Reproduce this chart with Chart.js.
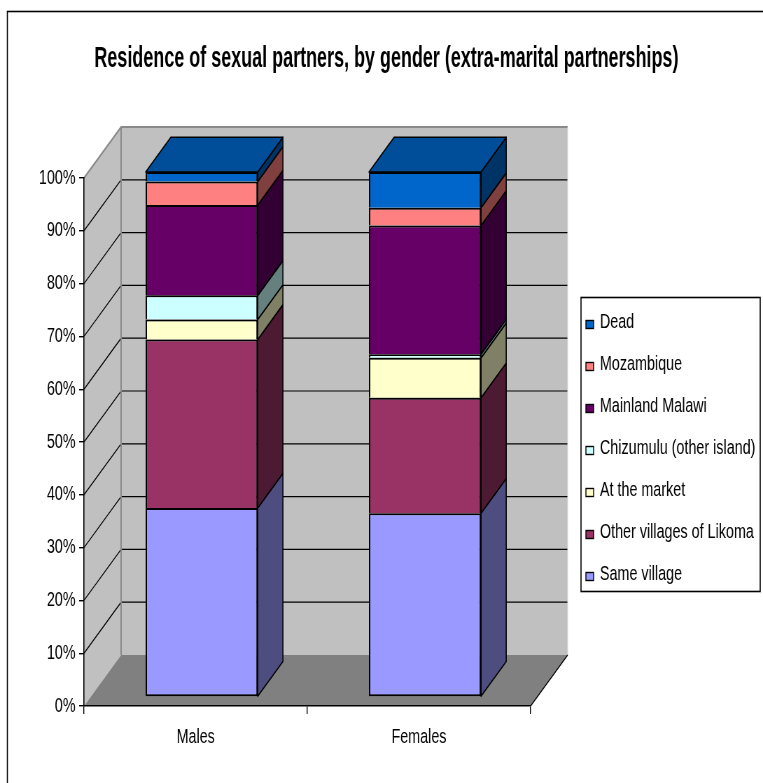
<!DOCTYPE html>
<html>
<head>
<meta charset="utf-8">
<title>Residence of sexual partners, by gender</title>
<script src="https://cdn.jsdelivr.net/npm/chart.js@4.4.1/dist/chart.umd.min.js"></script>
<style>
  html, body { margin: 0; padding: 0; background: #fff; overflow: hidden; }
  #wrap { position: relative; width: 763px; height: 783px; overflow: hidden; }
  /* the chart is laid out on a wider canvas and narrowed horizontally */
  #chart { position: absolute; left: 0; top: 0; transform: scaleX(0.7); transform-origin: 0 0; }
</style>
</head>
<body>
<div id="wrap"><canvas id="chart" width="1090" height="783"></canvas></div>
<script>
// ---- data (percent of partners) ----
const categories = ['Males', 'Females'];
const sameVillage    = [36.0, 35.0];
const otherVillages  = [32.1, 22.0];
const atMarket       = [3.8, 7.6];
const chizumulu      = [4.6, 0.7];
const mainlandMalawi = [17.2, 24.5];
const mozambique     = [4.5, 3.4];
const dead           = [1.8, 6.8];

const seriesNames = ['Same village', 'Other villages of Likoma', 'At the market',
  'Chizumulu (other island)', 'Mainland Malawi', 'Mozambique', 'Dead'];
const seriesValues = [sameVillage, otherVillages, atMarket, chizumulu, mainlandMalawi, mozambique, dead];
const yTicks = [0, 10, 20, 30, 40, 50, 60, 70, 80, 90, 100];
const chartTitle = 'Residence of sexual partners, by gender (extra-marital partnerships)';

// ---- styling ----
const seriesColors = ['#9999FF', '#993366', '#FFFFCC', '#CCFFFF', '#660066', '#FF8080', '#0066CC'];
const WALL = { dx: 53, dy: -51 };          // depth of the walls / floor
const BAR_SHIFT = { dx: 8.6, dy: -9, k: 525 / 528 }; // bar front plane sits a little behind the axis plane
const BAR_DEPTH = { dx: 36, dy: -35 };      // depth of each block

function shade(hex, f) {
  const n = parseInt(hex.slice(1), 16);
  const r = Math.round(((n >> 16) & 255) * f);
  const g = Math.round(((n >> 8) & 255) * f);
  const b = Math.round((n & 255) * f);
  return `rgb(${r},${g},${b})`;
}

const sceneryPlugin = {
  id: 'scenery',
  beforeDraw(chart) {
    const { ctx, chartArea: a } = chart;
    const y = chart.scales.y;
    const L = a.left, R = a.right;
    const B = y.getPixelForValue(0), T = y.getPixelForValue(100);
    const dx = WALL.dx, dy = WALL.dy;
    ctx.save();
    // outer frame
    ctx.strokeStyle = '#000';
    ctx.lineWidth = 1.6;
    ctx.strokeRect(10.5, 11.5, chart.width + 40, chart.height + 40);

    // back wall
    ctx.fillStyle = '#C0C0C0';
    ctx.fillRect(L + dx, T + dy, R - L, B - T);
    // left wall
    ctx.beginPath();
    ctx.moveTo(L, B); ctx.lineTo(L, T); ctx.lineTo(L + dx, T + dy); ctx.lineTo(L + dx, B + dy);
    ctx.closePath();
    ctx.fill();
    // floor
    ctx.fillStyle = '#808080';
    ctx.beginPath();
    ctx.moveTo(L, B); ctx.lineTo(R, B); ctx.lineTo(R + dx, B + dy); ctx.lineTo(L + dx, B + dy);
    ctx.closePath();
    ctx.fill();

    // gridlines on the walls
    ctx.strokeStyle = '#000';
    ctx.lineWidth = 1.2;
    yTicks.forEach(v => {
      if (v === 0 || v === 100) return;
      const py = y.getPixelForValue(v);
      ctx.beginPath();
      ctx.moveTo(L, py); ctx.lineTo(L + dx, py + dy); ctx.lineTo(R + dx, py + dy);
      ctx.stroke();
    });

    // wall edges
    ctx.strokeStyle = '#8a8a8a';
    ctx.lineWidth = 2;
    ctx.beginPath();
    ctx.moveTo(L, T); ctx.lineTo(L + dx, T + dy); ctx.lineTo(R + dx, T + dy);
    ctx.moveTo(L + dx, T + dy); ctx.lineTo(L + dx, B + dy);
    ctx.stroke();
    ctx.strokeStyle = '#dcdcdc';
    ctx.lineWidth = 1;
    ctx.beginPath();
    ctx.moveTo(R + dx, T + dy); ctx.lineTo(R + dx, B + dy);
    ctx.stroke();
    ctx.strokeStyle = '#000';
    ctx.lineWidth = 1.2;
    ctx.beginPath();
    ctx.moveTo(R, B); ctx.lineTo(R + dx, B + dy);
    ctx.stroke();
    ctx.restore();
  },
  beforeDatasetsDraw(chart) {
    const { ctx } = chart;
    const B = chart.scales.y.getPixelForValue(0);
    ctx.save();
    ctx.translate(BAR_SHIFT.dx, B + BAR_SHIFT.dy);
    ctx.scale(1, BAR_SHIFT.k);
    ctx.translate(0, -B);
  },
  afterDatasetsDraw(chart) {
    const { ctx } = chart;
    const sx = BAR_DEPTH.dx, sy = BAR_DEPTH.dy;
    const last = chart.data.datasets.length - 1;
    ctx.lineWidth = 1.6;
    ctx.strokeStyle = '#000';
    ctx.lineJoin = 'round';
    chart.data.datasets.forEach((ds, i) => {
      const meta = chart.getDatasetMeta(i);
      meta.data.forEach(el => {
        const { x, y, base, width } = el.getProps(['x', 'y', 'base', 'width'], true);
        const left = x - width / 2, right = x + width / 2;
        // side face
        ctx.fillStyle = shade(seriesColors[i], 0.5);
        ctx.beginPath();
        ctx.moveTo(right, y); ctx.lineTo(right + sx, y + sy);
        ctx.lineTo(right + sx, base + sy); ctx.lineTo(right, base);
        ctx.closePath();
        ctx.fill(); ctx.stroke();
        // lid on the top block
        if (i === last) {
          ctx.fillStyle = shade(seriesColors[i], 0.75);
          ctx.beginPath();
          ctx.moveTo(left, y); ctx.lineTo(left + sx, y + sy);
          ctx.lineTo(right + sx, y + sy); ctx.lineTo(right, y);
          ctx.closePath();
          ctx.fill(); ctx.stroke();
        }
      });
    });
    ctx.restore();
  },
  afterDraw(chart) {
    const { ctx } = chart;
    ctx.save();
    // title, set in a condensed bold face
    ctx.save();
    ctx.translate(552, 67);
    ctx.scale(0.87, 1);
    ctx.fillStyle = '#000';
    ctx.font = 'bold 29.5px "Liberation Sans", Arial, sans-serif';
    ctx.textAlign = 'center';
    ctx.textBaseline = 'alphabetic';
    ctx.fillText(chartTitle, 0, 0);
    ctx.restore();

    // legend
    const box = { x: 830, y: 297.5, w: 256, h: 294 };
    ctx.fillStyle = '#fff';
    ctx.fillRect(box.x, box.y, box.w, box.h);
    ctx.strokeStyle = '#000';
    ctx.lineWidth = 1.6;
    ctx.strokeRect(box.x, box.y, box.w, box.h);
    ctx.font = '20.5px "Liberation Sans", Arial, sans-serif';
    ctx.textAlign = 'left';
    ctx.textBaseline = 'alphabetic';
    const n = chart.data.datasets.length;
    for (let k = 0; k < n; k++) {
      const i = n - 1 - k;
      const ds = chart.data.datasets[i];
      const base = 327.5 + k * 42;
      ctx.fillStyle = ds.backgroundColor;
      ctx.fillRect(837, base - 7, 11, 8);
      ctx.lineWidth = 1.4;
      ctx.strokeRect(837, base - 7, 11, 8);
      ctx.fillStyle = '#000';
      ctx.fillText(ds.label, 857, base);
    }
    ctx.restore();
  }
};

const datasets = seriesNames.map((name, i) => ({
  label: name,
  data: seriesValues[i],
  backgroundColor: seriesColors[i],
  borderColor: '#000',
  borderWidth: 2,
  borderSkipped: i === 0 ? false : 'start',
  barPercentage: 0.502,
  categoryPercentage: 1,
  clip: false
}));

Chart.defaults.font.family = '"Liberation Sans", Arial, sans-serif';
Chart.defaults.color = '#000';

new Chart(document.getElementById('chart'), {
  type: 'bar',
  data: { labels: categories, datasets },
  options: {
    responsive: false,
    animation: false,
    devicePixelRatio: 1,
    layout: { padding: { top: 178, right: 332, bottom: 0, left: 0 } },
    plugins: {
      legend: { display: false },
      title: { display: false },
      tooltip: { enabled: false }
    },
    scales: {
      x: {
        stacked: true,
        grid: { display: true, offset: true, drawOnChartArea: false, color: '#000', tickLength: 8, lineWidth: 1.4 },
        border: { display: true, color: '#000', width: 1.6 },
        ticks: { color: '#000', font: { size: 20.5 }, padding: 11 },
        afterFit(s) { s.height = 77; }
      },
      y: {
        stacked: true,
        min: 0,
        max: 100,
        afterBuildTicks(s) { s.ticks = yTicks.map(v => ({ value: v })); },
        grid: { display: true, drawOnChartArea: false, color: '#000', tickLength: 7, lineWidth: 1.4 },
        border: { display: true, color: '#000', width: 1.6 },
        ticks: { color: '#000', font: { size: 20.5 }, padding: 5, callback: v => v + '%' },
        afterFit(s) { s.width = 120; }
      }
    }
  },
  plugins: [sceneryPlugin]
});
</script>
</body>
</html>
